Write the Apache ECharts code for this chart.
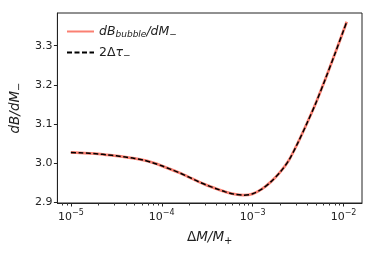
<!DOCTYPE html>
<html><head><meta charset="utf-8">
<script src="https://cdn.jsdelivr.net/npm/echarts@6/dist/echarts.min.js"></script>
<style>html,body{margin:0;padding:0;background:#fff}#c{width:374px;height:257px}</style>
</head><body><div id="c"></div>
<script>
// Data
const xValues = [1e-5, 1.259e-5, 1.585e-5, 1.995e-5, 2.512e-5, 3.162e-5, 3.981e-5, 5.012e-5, 6.31e-5, 7.943e-5,
  1e-4, 1.259e-4, 1.585e-4, 1.995e-4, 2.512e-4, 3.162e-4, 3.981e-4, 5.012e-4, 6.31e-4, 7.943e-4,
  1e-3, 1.259e-3, 1.585e-3, 1.995e-3, 2.512e-3, 3.162e-3, 3.981e-3, 5.012e-3, 6.31e-3, 7.943e-3,
  1e-2, 1.084e-2];
const bubbleValues = [3.0270, 3.0262, 3.0250, 3.0235, 3.0210, 3.0185, 3.0155, 3.0120, 3.0075, 3.0010,
  2.9930, 2.9840, 2.9745, 2.9640, 2.9530, 2.9430, 2.9345, 2.9265, 2.9205, 2.9180,
  2.9215, 2.9335, 2.9520, 2.9760, 3.0080, 3.0530, 3.1030, 3.1560, 3.2150, 3.2760,
  3.3390, 3.3610];
const tauValues = [3.0270, 3.0262, 3.0250, 3.0235, 3.0210, 3.0185, 3.0155, 3.0120, 3.0075, 3.0010,
  2.9930, 2.9840, 2.9745, 2.9640, 2.9530, 2.9430, 2.9345, 2.9265, 2.9205, 2.9180,
  2.9215, 2.9335, 2.9520, 2.9760, 3.0080, 3.0530, 3.1030, 3.1560, 3.2150, 3.2760,
  3.3390, 3.3610];
const xMajorTicks = [1e-5, 1e-4, 1e-3, 1e-2];
const xMinorTicks = [8e-6, 9e-6,
  2e-5, 3e-5, 4e-5, 5e-5, 6e-5, 7e-5, 8e-5, 9e-5,
  2e-4, 3e-4, 4e-4, 5e-4, 6e-4, 7e-4, 8e-4, 9e-4,
  2e-3, 3e-3, 4e-3, 5e-3, 6e-3, 7e-3, 8e-3, 9e-3];
const yTicks = [2.9, 3.0, 3.1, 3.2, 3.3];
const xMin = 7.11e-6, xMax = 0.01596, yMin = 2.898, yMax = 3.3835;

const font = 'DejaVu Sans';
const txt = '#222';
const chart = echarts.init(document.getElementById('c'), null, {renderer: 'canvas'});
const expo = v => Math.round(Math.log10(v));
chart.setOption({
  animation: false,
  grid: {left: 53, right: 12, top: 13, bottom: 54, show: true, borderColor: '#222', borderWidth: 1, backgroundColor: 'transparent'},
  legend: {
    left: 61, top: 20, orient: 'vertical', itemGap: 7, itemWidth: 27, itemHeight: 12,
    data: ['bubble', 'tau'],
    itemStyle: {opacity: 0},
    textStyle: {fontFamily: font, fontSize: 12.5, color: txt,
      rich: {
        i: {fontFamily: font, fontStyle: 'italic', fontSize: 12.5, color: txt},
        u: {fontFamily: font, fontSize: 12.5, color: txt},
        s: {fontFamily: font, fontStyle: 'italic', fontSize: 9, color: txt, padding: [6, 0, 0, 0]},
        m: {fontFamily: font, fontSize: 9, color: txt, padding: [6, 0, 0, 0]}
      }},
    formatter: n => n === 'bubble' ? '{i|dB}{s|bubble}{i|/dM}{m|−}' : '{u|2Δ}{i|τ}{m|−}'
  },
  xAxis: {
    type: 'log', logBase: 10, min: xMin, max: xMax,
    name: '{u|Δ}{i|M/M}{m|+}', nameLocation: 'middle', nameGap: 25,
    nameTextStyle: {fontFamily: font, fontSize: 13.5, color: txt,
      rich: {u: {fontFamily: font, fontSize: 13.5, color: txt}, i: {fontFamily: font, fontStyle: 'italic', fontSize: 13.5, color: txt}, m: {fontFamily: font, fontSize: 10, color: txt, padding: [8, 0, 0, 0]}}},
    axisLine: {show: true, lineStyle: {color: '#222', width: 1}},
    axisTick: {show: true, customValues: xMajorTicks, length: 3.5, lineStyle: {color: '#222'}},
    splitLine: {show: false},
    axisLabel: {customValues: xMajorTicks, margin: 6, color: txt,
      formatter: v => '{b|10}{s|−' + Math.abs(expo(v)) + '}',
      rich: {b: {fontFamily: font, fontSize: 11, color: txt}, s: {fontFamily: font, fontSize: 8, color: txt, padding: [0, 0, 8, 0]}}}
  },
  yAxis: {
    type: 'value', min: yMin, max: yMax,
    name: '{i|dB/dM}{m|−}', nameLocation: 'middle', nameGap: 31, nameRotate: 90,
    nameTextStyle: {fontFamily: font, fontSize: 13.5, color: txt,
      rich: {i: {fontFamily: font, fontStyle: 'italic', fontSize: 13.5, color: txt}, m: {fontFamily: font, fontSize: 10, color: txt, padding: [8, 0, 0, 0]}}},
    axisLine: {show: true, lineStyle: {color: '#222'}},
    axisTick: {show: true, customValues: yTicks, length: 3.5, lineStyle: {color: '#222'}},
    axisLabel: {customValues: yTicks, margin: 5, fontFamily: font, fontSize: 11, color: txt, formatter: v => v.toFixed(1)},
    splitLine: {show: false}
  },
  series: [{
    name: 'bubble', type: 'line', smooth: 0.3, showSymbol: false, symbol: 'none',
    data: xValues.map((x, i) => [x, bubbleValues[i]]),
    lineStyle: {color: '#FA8072', width: 2.8}, itemStyle: {color: '#FA8072'}
  }, {
    name: 'tau', type: 'line', smooth: 0.3, showSymbol: false, symbol: 'none',
    data: xValues.map((x, i) => [x, tauValues[i]]),
    lineStyle: {color: '#000', width: 1.5, type: [5, 2.5]}, itemStyle: {color: '#000'}
  }, {
    name: 'minorTicks', type: 'custom', silent: true, clip: false, z: 10,
    data: xMinorTicks.map(v => [v, yMin]),
    renderItem: (params, api) => {
      const p = api.coord([api.value(0), api.value(1)]);
      const x = Math.round(p[0]) + 0.5;
      return {type: 'line', shape: {x1: x, y1: p[1], x2: x, y2: p[1] + 2.5}, style: {stroke: '#333', lineWidth: 1}};
    }
  }]
});
</script></body></html>
